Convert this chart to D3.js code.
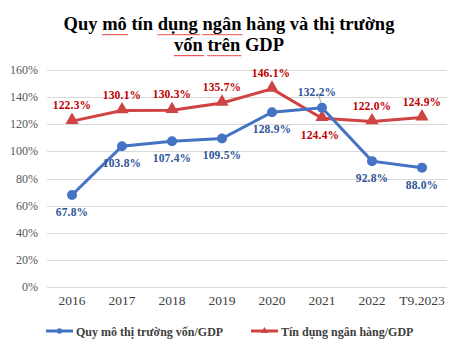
<!DOCTYPE html>
<html>
<head>
<meta charset="utf-8">
<script src="https://d3js.org/d3.v7.min.js"></script>
<style>
body { margin: 0; background: #fff; }
svg text { font-family: "Liberation Serif", "Times New Roman", serif; }
.grid line { stroke: #d9d9d9; stroke-width: 1px; shape-rendering: crispEdges; }
.grid path { stroke-width: 0; }
.tick-lbl { fill: #595959; }
</style>
</head>
<body>
<svg id="chart"></svg>
<script>

var years = ["2016", "2017", "2018", "2019", "2020", "2021", "2022", "T9.2023"];
var capital = [67.8, 103.8, 107.4, 109.5, 128.9, 132.2, 92.8, 88.0];
var credit = [122.3, 130.1, 130.3, 135.7, 146.1, 124.4, 122.0, 124.9];
var yTicks = [0, 20, 40, 60, 80, 100, 120, 140, 160];
// label above (-1) or below (+1) the point
var capitalPos = [1, 1, 1, 1, 1, -1, 1, 1];
var creditPos = [-1, -1, -1, -1, -1, 1, -1, -1];

var width = 460, height = 358;
var plotLeft = 47, plotRight = 447, plotTop = 70, plotBottom = 287;

var blue = "#4472c4", blueText = "#2f5597";
var red = "#d04343", redText = "#c00000";

var svg = d3.select("#chart").attr("width", width).attr("height", height);

var x = d3.scaleBand().domain(years).range([plotLeft, plotRight]);
var y = d3.scaleLinear().domain([0, 160]).range([plotBottom, plotTop]);

// Title
var title = svg.append("text")
    .attr("text-anchor", "middle")
    .style("font-size", "18.5px")
    .style("font-weight", "bold")
    .style("fill", "#000");
var l1 = title.append("tspan").attr("x", 229).attr("y", 30);
l1.append("tspan").text("Quy ");
l1.append("tspan").attr("class", "sp").text("mô");
l1.append("tspan").text(" tín ");
l1.append("tspan").attr("class", "sp").text("dụng");
l1.append("tspan").text(" ");
l1.append("tspan").attr("class", "sp").text("ngân");
l1.append("tspan").text(" hàng và thị trường");
var l2 = title.append("tspan").attr("x", 229).attr("y", 51);
l2.append("tspan").attr("class", "sp").text("vốn");
l2.append("tspan").text(" ");
l2.append("tspan").attr("class", "sp").text("trên");
l2.append("tspan").text(" GDP");

// red wavy spell-check underlines
title.selectAll(".sp").each(function() {
    var start = this.getStartPositionOfChar(0);
    var len = this.getComputedTextLength();
    var yy = start.y + 4;
    var d = "M" + start.x + "," + yy;
    for (var px = start.x; px < start.x + len; px += 2) {
        d += "L" + (px + 1) + "," + (yy + 1.2) + "L" + (px + 2) + "," + yy;
    }
    svg.append("path")
        .attr("d", d)
        .style("fill", "none")
        .style("stroke", "#e02020")
        .style("stroke-width", 0.8);
});

// Grid
svg.append("g")
    .attr("class", "grid")
    .attr("transform", "translate(" + plotLeft + ",0)")
    .call(d3.axisLeft(y).tickValues(yTicks).tickSize(-(plotRight - plotLeft)).tickFormat(""));

// Y tick labels
svg.append("g").selectAll("text")
    .data(yTicks)
    .enter().append("text")
    .attr("class", "tick-lbl")
    .attr("x", 38)
    .attr("y", function(d) { return y(d) + 4; })
    .attr("text-anchor", "end")
    .style("font-size", "12px")
    .text(function(d) { return d + "%"; });

// X tick labels
svg.append("g").selectAll("text")
    .data(years)
    .enter().append("text")
    .attr("x", function(d) { return x(d) + x.bandwidth() / 2; })
    .attr("y", 305)
    .attr("text-anchor", "middle")
    .style("font-size", "13.5px")
    .style("fill", "#404040")
    .text(function(d) { return d; });

var cx = function(i) { return x(years[i]) + x.bandwidth() / 2; };

var line = d3.line()
    .x(function(d, i) { return cx(i); })
    .y(function(d) { return y(d); });

// leader line for 2021 capital label
svg.append("line")
    .attr("x1", 318).attr("y1", 93)
    .attr("x2", 322).attr("y2", 106)
    .style("stroke", "#a6a6a6")
    .style("stroke-width", 1);

// Credit series
svg.append("path")
    .datum(credit)
    .attr("d", line)
    .style("fill", "none")
    .style("stroke", red)
    .style("stroke-width", 3);

svg.append("g").selectAll("path")
    .data(credit)
    .enter().append("path")
    .attr("d", d3.symbol().type(d3.symbolTriangle).size(75))
    .attr("transform", function(d, i) { return "translate(" + cx(i) + "," + (y(d) - 1) + ")"; })
    .style("fill", red);

// Capital series
svg.append("path")
    .datum(capital)
    .attr("d", line)
    .style("fill", "none")
    .style("stroke", blue)
    .style("stroke-width", 3);

svg.append("g").selectAll("circle")
    .data(capital)
    .enter().append("circle")
    .attr("cx", function(d, i) { return cx(i); })
    .attr("cy", function(d) { return y(d); })
    .attr("r", 5)
    .style("fill", blue);

// Data labels
function labels(data, pos, color, shift) {
    svg.append("g").selectAll("text")
        .data(data)
        .enter().append("text")
        .attr("x", function(d, i) { return cx(i) + (shift[i] || 0); })
        .attr("y", function(d, i) { return y(d) + (pos[i] < 0 ? -12 : 21); })
        .attr("text-anchor", "middle")
        .style("font-size", "11.5px")
        .style("letter-spacing", "0.2px")
        .style("font-weight", "bold")
        .style("fill", color)
        .text(function(d) { return d.toFixed(1) + "%"; });
}
labels(credit, creditPos, redText, [0, 0, 0, 0, -1, -2, 0, 0]);
labels(capital, capitalPos, blueText, [0, 0, 0, 0, 0, -5, 0, 0]);

// Legend
var legend = [
    { name: "Quy mô thị trường vốn/GDP", color: blue, x: 46, shape: "circle" },
    { name: "Tín dụng ngân hàng/GDP", color: red, x: 251, shape: "tri" }
];
var lg = svg.append("g").selectAll("g")
    .data(legend)
    .enter().append("g")
    .attr("transform", function(d) { return "translate(" + d.x + ",331)"; });
lg.append("line")
    .attr("x1", 0).attr("x2", 27)
    .style("stroke", function(d) { return d.color; })
    .style("stroke-width", 3);
lg.append("path")
    .attr("transform", "translate(13.5,0)")
    .attr("d", function(d) {
        return d3.symbol().type(d.shape == "circle" ? d3.symbolCircle : d3.symbolTriangle).size(22)();
    })
    .style("fill", function(d) { return d.color; });
lg.append("text")
    .attr("x", 30)
    .attr("y", 4.5)
    .style("font-size", "12px")
    .style("font-weight", "bold")
    .style("fill", "#404040")
    .text(function(d) { return d.name; });

</script>
</body>
</html>
